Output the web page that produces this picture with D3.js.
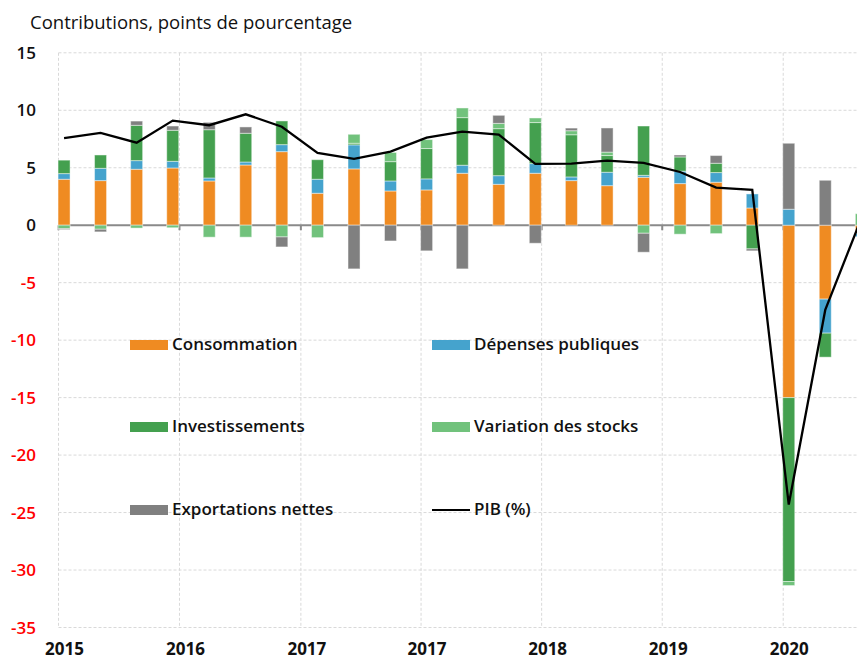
<!DOCTYPE html>
<html>
<head>
<meta charset="utf-8">
<script src="https://cdn.jsdelivr.net/npm/d3@7"></script>
<style>
  body { margin: 0; background: #fff; }
  svg text { font-family: "Open Sans", "DejaVu Sans", sans-serif; }
</style>
</head>
<body>
<svg id="chart" width="857" height="660"></svg>
<script>
// quarterly observations (mid-month of the quarter's position on the date axis)
var dates = ["2015-06-15", "2015-09-15", "2015-12-15", "2016-03-15", "2016-06-15", "2016-09-15",
             "2016-12-15", "2017-03-15", "2017-06-15", "2017-09-15", "2017-12-15", "2018-03-15",
             "2018-06-15", "2018-09-15", "2018-12-15", "2019-03-15", "2019-06-15", "2019-09-15",
             "2019-12-15", "2020-03-15", "2020-06-15", "2020-09-15", "2020-12-15"];

var consommation = [4.0, 3.88, 4.87, 4.98, 3.85, 5.24, 6.4, 2.78, 4.9, 2.98, 3.07, 4.52,
                    3.56, 4.52, 3.88, 3.44, 4.17, 3.62, 3.74, 1.5, -15.0, -6.43, -0.7];
var depenses = [0.49, 1.07, 0.75, 0.58, 0.26, 0.26, 0.61, 1.22, 2.09, 0.87, 0.96, 0.7,
                0.75, 0.84, 0.32, 1.17, 0.17, 1.08, 0.84, 1.22, 1.39, -2.96, -0.3];
var investissements = [1.17, 1.16, 3.07, 2.7, 4.2, 2.5, 2.06, 1.7, 0.14, 1.68, 2.64, 4.14,
                       4.09, 3.57, 3.67, 1.45, 4.29, 1.24, 0.81, -2.06, -16.0, -2.09, 0.0];
var stocks = [-0.3, -0.35, -0.25, -0.22, -1.04, -1.04, -1.02, -1.08, 0.78, 0.8, 0.78, 0.84,
              0.46, 0.4, 0.35, 0.3, -0.7, -0.78, -0.73, 0, -0.35, 0, 1.0];
var exportations = [-0.08, -0.23, 0.37, 0.37, 0.64, 0.55, -0.87, 0, -3.8, -1.37, -2.23, -3.8,
                    0.7, -1.57, 0.23, 2.1, -1.65, 0.17, 0.67, -0.17, 5.74, 3.91, 0];
var pib = [7.57, 8.03, 7.18, 9.1, 8.7, 9.65, 8.57, 6.29, 5.77, 6.4, 7.62, 8.14,
           7.88, 5.33, 5.36, 5.62, 5.42, 4.63, 3.27, 3.07, -24.3, -7.37, 0.6];

var seriesNames = ["Consommation", "Dépenses publiques", "Investissements", "Variation des stocks", "Exportations nettes"];
var seriesColors = ["#ef8b22", "#45a3cd", "#44a04f", "#71c27c", "#808080"];
var xTicks = ["2015-06-01", "2016-04-01", "2017-02-01", "2017-12-01", "2018-10-01", "2019-08-01", "2020-06-01"];
var yTicks = [15, 10, 5, 0, -5, -10, -15, -20, -25, -30, -35];

var parse = d3.timeParse("%Y-%m-%d");
var svg = d3.select("#chart");

var x = d3.scaleTime().domain([parse("2015-06-01"), parse("2021-04-01")]).range([58.5, 903.8]);
var y = d3.scaleLinear().domain([-35, 15]).range([627.5, 52.8]);
var color = d3.scaleOrdinal().domain(seriesNames).range(seriesColors);

var rows = dates.map(function(d, i) {
  var r = { date: parse(d) };
  r[seriesNames[0]] = consommation[i];
  r[seriesNames[1]] = depenses[i];
  r[seriesNames[2]] = investissements[i];
  r[seriesNames[3]] = stocks[i];
  r[seriesNames[4]] = exportations[i];
  return r;
});

var stacked = d3.stack().keys(seriesNames).offset(d3.stackOffsetDiverging)(rows);

// title
svg.append("text").attr("x", 30).attr("y", 29)
  .attr("font-size", 18.5).attr("font-weight", 500).attr("fill", "#111")
  .text("Contributions, points de pourcentage");

// grid
var grid = svg.append("g");
grid.selectAll(".hg").data(yTicks.filter(function(d) { return d !== 0; })).enter().append("line")
  .attr("x1", 58.5).attr("x2", 857)
  .attr("y1", function(d) { return y(d); }).attr("y2", function(d) { return y(d); })
  .attr("stroke", "#d9d9d9").attr("stroke-dasharray", "3,2");
grid.selectAll(".vg").data(xTicks).enter().append("line")
  .attr("x1", function(d) { return x(parse(d)); }).attr("x2", function(d) { return x(parse(d)); })
  .attr("y1", y(15)).attr("y2", y(-35))
  .attr("stroke", "#d9d9d9").attr("stroke-dasharray", "3,2");

// y labels
svg.append("g").selectAll("text").data(yTicks).enter().append("text")
  .attr("x", 36).attr("y", function(d) { return y(d); }).attr("dy", "0.36em")
  .attr("text-anchor", "end").attr("font-size", 17).attr("font-weight", 600)
  .attr("fill", function(d) { return d < 0 ? "#ff0000" : "#111"; })
  .text(function(d) { return d; });

// x labels
svg.append("g").selectAll("text").data(xTicks).enter().append("text")
  .attr("x", function(d) { return x(parse(d)) + 6; }).attr("y", 655)
  .attr("text-anchor", "middle").attr("font-size", 17).attr("font-weight", 700)
  .attr("fill", "#111")
  .text(function(d) { return d3.timeFormat("%Y")(parse(d)); });

// zero axis and tick marks
svg.append("line").attr("x1", 58).attr("x2", 857).attr("y1", y(0)).attr("y2", y(0))
  .attr("stroke", "#8a8a8a").attr("stroke-width", 2);
svg.append("g").selectAll("line").data(xTicks).enter().append("line")
  .attr("x1", function(d) { return x(parse(d)); }).attr("x2", function(d) { return x(parse(d)); })
  .attr("y1", y(0)).attr("y2", y(0) + 5)
  .attr("stroke", "#8a8a8a").attr("stroke-width", 2);

// bars
var bw = 12;
svg.append("g").selectAll("g").data(stacked).enter().append("g")
  .attr("fill", function(s) { return color(s.key); })
  .selectAll("rect").data(function(s) { return s; }).enter().append("rect")
  .attr("x", function(d) { return x(d.data.date) - bw / 2; })
  .attr("width", bw)
  .attr("y", function(d) { return y(d[1]); })
  .attr("height", function(d) { return Math.abs(y(d[0]) - y(d[1])); })
  .attr("stroke", "rgba(255,255,255,0.45)").attr("stroke-width", 1);

// PIB line
var line = d3.line()
  .x(function(d, i) { return x(parse(dates[i])); })
  .y(function(d) { return y(d); });
svg.append("path").datum(pib).attr("d", line)
  .attr("fill", "none").attr("stroke", "#000").attr("stroke-width", 2.3);

// legend
var legendX = [130, 432], legendY = [345, 427, 510];
var legendItems = seriesNames.concat(["PIB (%)"]);
var lg = svg.append("g").selectAll("g").data(legendItems).enter().append("g")
  .attr("transform", function(d, i) { return "translate(" + legendX[i % 2] + "," + legendY[Math.floor(i / 2)] + ")"; });
lg.each(function(d, i) {
  var g = d3.select(this);
  if (i < seriesNames.length) {
    g.append("rect").attr("x", 0).attr("y", -5).attr("width", 38).attr("height", 10).attr("fill", color(d));
  } else {
    g.append("line").attr("x1", 0).attr("x2", 38).attr("y1", 0).attr("y2", 0)
      .attr("stroke", "#000").attr("stroke-width", 2);
  }
  g.append("text").attr("x", 42).attr("y", 5)
    .attr("font-size", 17).attr("font-weight", 600).attr("fill", "#111").text(d);
});
</script>
</body>
</html>
